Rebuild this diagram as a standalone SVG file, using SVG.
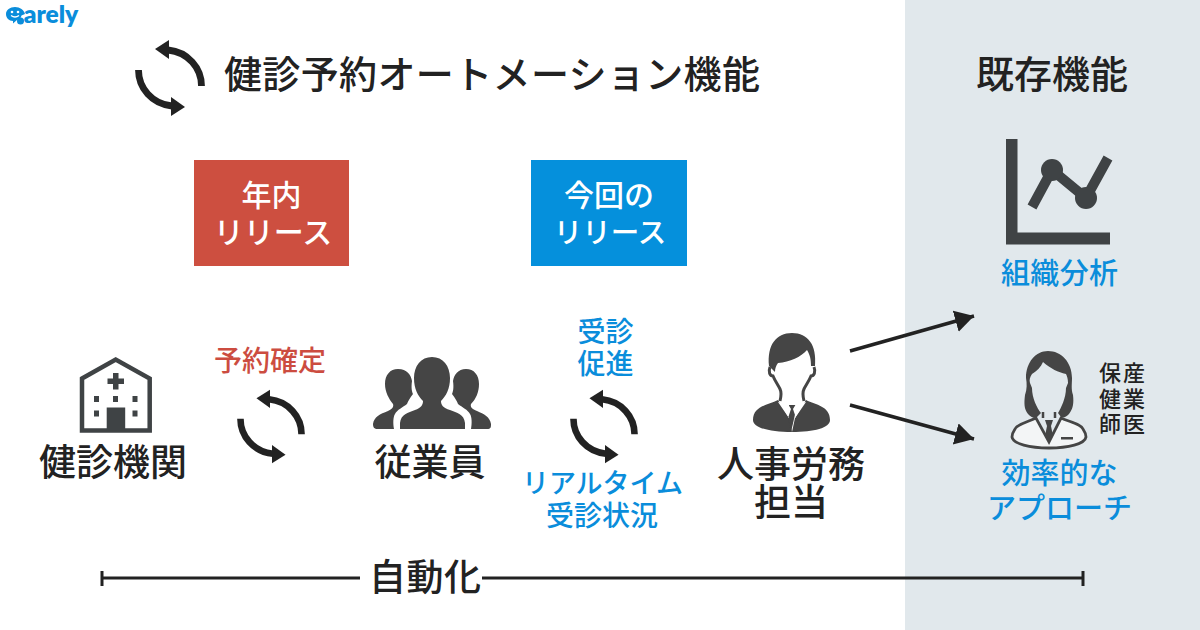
<svg xmlns="http://www.w3.org/2000/svg" width="1200" height="630" viewBox="0 0 1200 630">
<style>
text{font-family:"Noto Sans CJK JP","Noto Sans",sans-serif;font-weight:500;text-anchor:middle}
.k{fill:#222}.b{fill:#0a8ddb}.r{fill:#cc4c40}.w{fill:#fff}
.t{font-size:38px}.h{font-size:37px}.s{font-size:28px}.l{font-size:29px}.m{font-size:30px}.x{font-size:22px;letter-spacing:2px}
.ic{fill:#454545}
</style>
<defs>
<g id="cycle"><path d="M31.5,8C31.5,-10 18,-26 -2,-28" fill="none" stroke="#222" stroke-width="6.8"/><polygon points="-15,-29 -1,-38 -1,-19" fill="#222"/></g>
<marker id="ah" markerUnits="userSpaceOnUse" markerWidth="22" markerHeight="24" refX="19" refY="11" orient="auto"><polygon points="0,0 19,11 0,22" fill="#222"/></marker>
</defs>
<rect width="1200" height="630" fill="#fff"/>
<rect x="905" y="0" width="295" height="630" fill="#e1e8ec"/>

<g id="logo">
<path d="M15,7C20,7 24,10 25,14L21.500,15.500C21,18 19,19.500 17,20L13,23.500L13,21C9,21 6,18 6,14C6,10 10,7 15,7Z" fill="#0a8ddb"/>
<circle cx="20.500" cy="21" r="3.500" fill="#0a8ddb"/>
<circle cx="12" cy="12" r="1.300" fill="#fff"/><circle cx="18" cy="12" r="1.300" fill="#fff"/>
<path d="M11,15.500Q15,18.500 19,15.500" fill="none" stroke="#fff" stroke-width="1.300"/>
<text x="51" y="23" text-anchor="middle" style="font-family:'Lato','Liberation Sans',sans-serif;font-weight:800;font-size:24.500px" class="b">arely</text>
</g>

<g id="title">
<use href="#cycle" transform="translate(170,78)"/>
<use href="#cycle" transform="translate(170,78) rotate(180)"/>
<text class="t k" x="492" y="88" textLength="536">健診予約オートメーション機能</text>
</g>
<g id="existing"><text class="t k" x="1052" y="88">既存機能</text></g>

<g id="release-year">
<rect x="194" y="160" width="155" height="106" fill="#cd4f40"/>
<text class="m w" x="271.500" y="205.500">年内</text>
<text class="m w" x="273" y="243">リリース</text>
</g>
<g id="release-now">
<rect x="531" y="160" width="156" height="106" fill="#0590dc"/>
<text class="m w" x="609" y="205.500">今回の</text>
<text class="w" style="font-size:28.500px" x="610" y="243">リリース</text>
</g>

<g id="clinic">
<path d="M82,378.500L115.700,359.500L149.700,378.500V430.500H82Z" fill="#fff" stroke="#3f4345" stroke-width="4.500"/>
<path d="M113,373h5.500v5.500h5.500v5.500h-5.500v5.500h-5.500v-5.500h-5.500v-5.500h5.500z" fill="#3f4345"/>
<path d="M94,396h5v6h-5zM113,396h5v6h-5zM132.500,396h5v6h-5zM94,410.500h5v6h-5zM132.500,410.500h5v6h-5zM106.700,407.500h18.500v23h-18.500z" fill="#3f4345"/>
<text class="h k" x="113" y="476">健診機関</text>
</g>

<g id="staff">
<path class="ic" d="M432,357C443,357 450,366 450,378C450,389 446,396 441,401C441,405 443,408 450,410C457,413 464,414 465,423V429H400V423C401,414 408,413 415,410C421,408 423,405 423,401C418,396 414,389 414,378C414,366 421,357 432,357Z"/>
<path class="ic" d="M398,369C407,369 411,375 412,381C411,388 412,392 413,394C410,398 408,401 407,404C403,407 397,410 395,414C393,417 393,424 394,429H378C374,429 373,427 373,424C374,417 380,414 388,411C392,409 394,407 393,404C389,399 385,392 385,384C385,375 390,369 398,369Z"/>
<path class="ic" d="M466,369C458,369 454,375 453,381C454,388 453,392 452,394C455,398 457,401 458,404C462,407 468,410 470,414C472,417 472,424 471,429H487C491,429 491,427 491,424C490,417 484,414 477,411C472,409 470,407 471,404C476,399 479,392 479,384C479,375 474,369 466,369Z"/>
<text class="h k" x="430" y="476">従業員</text>
</g>

<g id="hr">
<path class="ic" d="M769,366C767,345 776,333 792,333C808,333 817,345 815,366L811,366C811,359 810,355 807,350C801,357 790,362 778,363C776,366 775,368 775,372Z"/>
<path d="M770,367C768,372 770,376 773,376C775,381 778,385 780,389C782,393 781,397 780,401M814,367C816,372 814,376 811,376C809,381 806,385 804,389C802,393 803,397 804,401" fill="none" stroke="#454545" stroke-width="3"/>
<path class="ic" d="M778,400L789,418L792,432C770,432 753,428 753,420C753,406 768,405 778,400ZM806,400L795,418L792,432C814,432 830,428 830,420C830,406 816,405 806,400Z"/>
<path d="M789,405H795L797,405L794,419L791,432L788,418Z" fill="#454545"/>
<path d="M778,402L788,404L791,409L788,418L789,418ZM806,402L796,404L793,409L796,418L795,418Z" fill="#fff"/>
<text class="h k" x="791" y="478">人事労務</text>
<text class="h k" x="791" y="516">担当</text>
</g>

<g id="chart">
<path d="M1006,139H1017.500V232.500H1110V244.500H1006Z" fill="#3f4345"/>
<path d="M1032,207L1052,170L1086,198L1108,158" fill="none" stroke="#3f4345" stroke-width="10"/>
<circle cx="1052" cy="170" r="11" fill="#3f4345"/><circle cx="1086" cy="198" r="11" fill="#3f4345"/>
<text class="l b" x="1059.500" y="284" textLength="117">組織分析</text>
</g>

<g id="nurse">
<path d="M1036,418C1028,422 1017,424 1015,429C1013,432 1012,434 1012,437C1013,444 1030,448 1049,448C1068,448 1085,444 1086,437C1086,434 1085,432 1083,429C1081,424 1070,422 1061,418L1049,442Z" fill="#f3f5f6" stroke="#454545" stroke-width="2.800"/>
<path class="ic" d="M1026,378C1026,362 1036,351 1048,351C1061,351 1072,362 1072,378C1072,384 1071,389 1073,395C1074,403 1073,409 1069,414C1066,417 1064,418 1061,417L1058,413C1061,408 1066,398 1066,388L1068,383C1068,379 1067,376 1066,374C1058,372 1051,369 1043,362C1041,367 1037,371 1032,374C1030,377 1029,380 1030,383L1032,388C1032,398 1037,408 1041,413L1036,418C1032,418 1030,416 1028,414C1024,409 1024,403 1025,395C1027,389 1027,384 1026,378Z"/>
<path d="M1043,412V418M1055,412V418" stroke="#454545" stroke-width="2.500" fill="none"/>
<path class="ic" d="M1045,420H1053L1051,426L1053,436L1049,442L1045,436L1047,426Z"/>
<rect x="1061" y="437" width="12" height="2.500" fill="#454545"/>
<text class="x k" x="1123" y="381">保産</text>
<text class="x k" x="1123" y="407">健業</text>
<text class="x k" x="1123" y="432">師医</text>
<text class="l b" x="1059.500" y="484">効率的な</text>
<text class="l b" x="1059.500" y="519">アプローチ</text>
</g>

<g id="cycle-confirm">
<text class="s r" x="270" y="371">予約確定</text>
<use href="#cycle" transform="translate(271,426.500) scale(.97)"/>
<use href="#cycle" transform="translate(271,426.500) rotate(180) scale(.97)"/>
</g>
<g id="cycle-promote">
<text class="s b" x="605.500" y="342">受診</text>
<text class="s b" x="605.500" y="374">促進</text>
<use href="#cycle" transform="translate(604,426.500) scale(.97)"/>
<use href="#cycle" transform="translate(604,426.500) rotate(180) scale(.97)"/>
<text class="b" style="font-size:27px" x="602.500" y="493">リアルタイム</text>
<text class="s b" x="602" y="526">受診状況</text>
</g>

<g id="connectors" fill="none" stroke="#222">
<path d="M850,351L974,316" stroke-width="3.500" marker-end="url(#ah)"/>
<path d="M850,405L974,439" stroke-width="3.500" marker-end="url(#ah)"/>
<path d="M102,578H360M482,578H1083" stroke-width="3"/>
<path d="M102,571V586M1083,571V586" stroke-width="3"/>
</g>
<g id="auto"><text class="h k" x="425" y="591" textLength="112">自動化</text></g>
</svg>
